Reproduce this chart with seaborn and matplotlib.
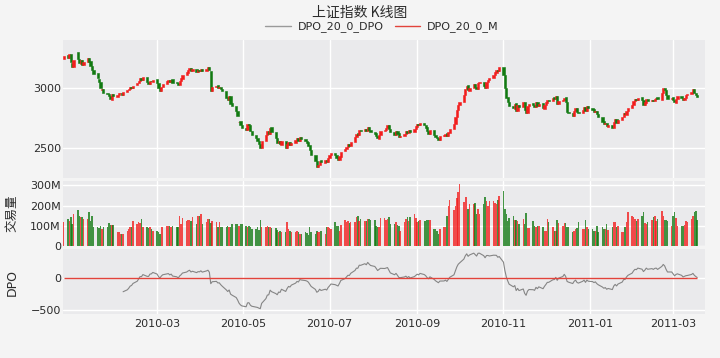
import numpy as np
import pandas as pd
import matplotlib
matplotlib.use("Agg")
import matplotlib.pyplot as plt
import matplotlib.dates as mdates
from matplotlib.ticker import FixedLocator, FixedFormatter
from matplotlib.lines import Line2D
import seaborn as sns

# ---------------- data ----------------
start_date = "2009-12-25"   # first trading day shown (weekday axis)

close = [
    3270,
    3250, 3280, 3215, 3175, 3230,
    3240, 3205, 3235, 3190, 3215,
    3250, 3220, 3180, 3150, 3120,
    3080, 3050, 3000, 2990, 2960,
    2950, 2930, 2905, 2950, 2930,
    2945, 2955, 2960, 2940, 2965,
    2980, 2990, 3005, 3000, 3020,
    3040, 3060, 3085, 3070, 3090,
    3050, 3035, 3060, 3055, 3070,
    3040, 3000, 2975, 3010, 3035,
    3055, 3065, 3050, 3070, 3045,
    3040, 3025, 3060, 3080, 3110,
    3130, 3150, 3165, 3140, 3155,
    3135, 3150, 3145, 3160, 3140,
    3160, 3175, 3150, 2975, 3010,
    3020, 3000, 3010, 2990, 2975,
    2920, 2900, 2930, 2870, 2850,
    2810, 2770, 2720, 2690, 2670,
    2650, 2700, 2690, 2640, 2610,
    2580, 2560, 2530, 2500, 2560,
    2610, 2640, 2620, 2670, 2630,
    2580, 2540, 2560, 2530, 2555,
    2500, 2530, 2550, 2525, 2545,
    2565, 2580, 2560, 2590, 2575,
    2560, 2545, 2520, 2480, 2440,
    2390, 2345, 2360, 2395, 2380,
    2400, 2385, 2420, 2440, 2460,
    2440, 2420, 2400, 2430, 2470,
    2490, 2510, 2530, 2520, 2550,
    2590, 2620, 2610, 2650, 2640,
    2660, 2640, 2675, 2650, 2630,
    2620, 2600, 2580, 2610, 2640,
    2650, 2670, 2690, 2660, 2630,
    2610, 2640, 2620, 2595, 2600,
    2620, 2640, 2625, 2650, 2635,
    2660, 2680, 2700, 2690, 2710,
    2690, 2670, 2640, 2620, 2650,
    2610, 2590, 2580, 2570, 2600,
    2605, 2620, 2600, 2630, 2660,
    2700, 2760, 2820, 2860, 2880,
    2940, 2990, 3020, 2980, 3000,
    3030, 3010, 2990, 3040, 3050,
    3020, 3000, 3050, 3070, 3080,
    3110, 3130, 3150, 3140, 3175,
    3110, 3000, 2920, 2880, 2850,
    2830, 2870, 2810, 2860, 2840,
    2880, 2820, 2790, 2850, 2870,
    2860, 2840, 2880, 2850, 2870,
    2830, 2860, 2880, 2900, 2890,
    2920, 2910, 2930, 2870, 2890,
    2900, 2920, 2880, 2800, 2790,
    2770, 2810, 2830, 2800, 2790,
    2820, 2840, 2810, 2850, 2830,
    2820, 2800, 2810, 2780, 2760,
    2720, 2700, 2710, 2680, 2690,
    2670, 2720, 2740, 2710, 2735,
    2760, 2790, 2780, 2810, 2830,
    2860, 2890, 2910, 2900, 2920,
    2900, 2860, 2880, 2910, 2890,
    2900, 2890, 2910, 2920, 2905,
    2960, 3000, 2985, 2940, 2910,
    2920, 2900, 2880, 2910, 2930,
    2915, 2900, 2920, 2940, 2950,
    2970, 2990, 2960, 2940, 2925,
]

open_ = [
    3240,
    3272, 3248, 3282, 3212, 3178,
    3300, 3238, 3203, 3237, 3188,
    3213, 3252, 3222, 3182, 3152,
    3122, 3078, 3052, 2985, 2992,
    2962, 2948, 2932, 2903, 2952,
    2928, 2943, 2957, 2962, 2938,
    2963, 2982, 2988, 3007, 2998,
    3022, 3038, 3062, 3087, 3068,
    3092, 3052, 3033, 3062, 3053,
    3072, 3042, 3002, 2973, 3008,
    3033, 3053, 3067, 3048, 3072,
    3047, 3042, 3023, 3058, 3078,
    3108, 3128, 3148, 3167, 3138,
    3157, 3133, 3152, 3143, 3162,
    3138, 3158, 3177, 3140, 2973,
    3008, 3022, 2998, 3012, 2992,
    2977, 2922, 2898, 2932, 2872,
    2852, 2812, 2715, 2722, 2692,
    2668, 2648, 2702, 2688, 2642,
    2612, 2582, 2562, 2532, 2498,
    2558, 2608, 2642, 2618, 2672,
    2632, 2582, 2538, 2562, 2528,
    2557, 2498, 2528, 2552, 2523,
    2543, 2563, 2582, 2558, 2592,
    2577, 2562, 2547, 2522, 2482,
    2442, 2392, 2343, 2362, 2397,
    2378, 2402, 2383, 2418, 2438,
    2462, 2442, 2422, 2398, 2428,
    2472, 2488, 2508, 2532, 2518,
    2552, 2588, 2622, 2608, 2652,
    2638, 2662, 2638, 2677, 2652,
    2632, 2622, 2602, 2578, 2608,
    2642, 2648, 2668, 2692, 2662,
    2632, 2608, 2642, 2622, 2593,
    2602, 2618, 2642, 2623, 2652,
    2633, 2658, 2678, 2702, 2688,
    2712, 2692, 2672, 2642, 2618,
    2652, 2612, 2592, 2582, 2568,
    2602, 2603, 2622, 2598, 2628,
    2662, 2698, 2758, 2818, 2862,
    2882, 2938, 2988, 3022, 2978,
    3002, 3032, 3012, 2988, 3038,
    3052, 3022, 2998, 3048, 3068,
    3082, 3108, 3128, 3152, 3138,
    3177, 3112, 3002, 2922, 2882,
    2852, 2828, 2872, 2808, 2862,
    2838, 2882, 2822, 2788, 2848,
    2872, 2862, 2838, 2882, 2848,
    2872, 2828, 2858, 2878, 2902,
    2888, 2922, 2908, 2932, 2868,
    2892, 2898, 2922, 2882, 2802,
    2792, 2768, 2808, 2832, 2802,
    2788, 2818, 2842, 2808, 2852,
    2832, 2822, 2798, 2812, 2782,
    2762, 2722, 2698, 2712, 2678,
    2692, 2668, 2718, 2742, 2708,
    2733, 2758, 2792, 2778, 2808,
    2832, 2858, 2888, 2912, 2898,
    2922, 2902, 2858, 2878, 2912,
    2888, 2902, 2888, 2908, 2922,
    2903, 2958, 3002, 2987, 2942,
    2908, 2922, 2902, 2878, 2908,
    2932, 2917, 2898, 2918, 2938,
    2948, 2968, 2992, 2962, 2942,
]

volume_m = [
    117,
    133, 125, 142, 108, 158,
    178, 150, 142, 142, 133,
    133, 167, 125, 150, 92,
    92, 88, 100, 83, 92,
    95, 112, 105, 105, 103,
    67, 67, 58, 58, 58,
    72, 83, 95, 95, 125,
    108, 117, 112, 133, 95,
    95, 87, 95, 83, 75,
    75, 67, 58, 92, 95,
    97, 97, 100, 95, 100,
    95, 95, 150, 108, 137,
    125, 128, 128, 122, 142,
    108, 147, 147, 158, 108,
    117, 133, 133, 112, 125,
    117, 92, 117, 95, 92,
    95, 100, 92, 92, 108,
    108, 108, 100, 108, 108,
    100, 92, 100, 95, 83,
    83, 92, 78, 128, 95,
    95, 100, 95, 92, 88,
    88, 78, 67, 75, 67,
    67, 117, 83, 75, 67,
    67, 72, 67, 58, 58,
    67, 62, 55, 92, 67,
    58, 75, 67, 67, 75,
    58, 95, 95, 88, 83,
    117, 100, 100, 75, 105,
    128, 117, 122, 112, 117,
    117, 142, 150, 125, 133,
    125, 125, 133, 133, 128,
    128, 100, 95, 92, 137,
    137, 128, 133, 142, 108,
    108, 117, 105, 100, 75,
    117, 133, 142, 125, 145,
    158, 140, 117, 125, 128,
    125, 125, 128, 128, 128,
    83, 83, 75, 58, 83,
    92, 95, 150, 200, 228,
    178, 200, 240, 267, 308,
    220, 242, 242, 183, 208,
    210, 213, 158, 183, 158,
    208, 242, 225, 200, 222,
    222, 213, 208, 228, 250,
    270, 183, 158, 125, 140,
    150, 128, 128, 125, 108,
    133, 108, 162, 88, 88,
    125, 100, 92, 100, 100,
    95, 75, 75, 133, 117,
    92, 75, 75, 128, 112,
    100, 112, 112, 92, 95,
    67, 75, 83, 88, 117,
    83, 83, 128, 92, 83,
    83, 75, 75, 100, 67,
    92, 83, 83, 108, 78,
    92, 117, 117, 92, 100,
    67, 67, 95, 117, 167,
    150, 142, 133, 122, 133,
    150, 167, 112, 108, 117,
    130, 142, 150, 125, 133,
    175, 150, 128, 128, 125,
    100, 150, 167, 137, 100,
    100, 100, 105, 125, 117,
    133, 150, 167, 175, 130,
]

x_ticks = ["2010-03-01", "2010-05-01", "2010-07-01", "2010-09-01",
           "2010-11-01", "2011-01-01", "2011-03-01"]
x_tick_labels = ["2010-03", "2010-05", "2010-07", "2010-09",
                 "2010-11", "2011-01", "2011-03"]
price_ticks = [2500, 3000]
volume_ticks = [0, 100e6, 200e6, 300e6]
volume_tick_labels = ["0", "100M", "200M", "300M"]
dpo_ticks = [-500, 0]
dpo_length = 20
dpo_shift = 11
dpo_m_level = 0.0
title = "上证指数 K线图"
legend_labels = ["DPO_20_0_DPO", "DPO_20_0_M"]

# ---------------- style ----------------
sns.set_style("darkgrid", {"axes.facecolor": "#eaeaec", "grid.color": "white",
                           "axes.edgecolor": "#eaeaec"})
plt.rcParams["font.family"] = ["DejaVu Sans", "Noto Sans CJK SC"]
plt.rcParams["axes.unicode_minus"] = True

n = min(len(close), len(open_), len(volume_m))
dates = pd.bdate_range(start_date, periods=n)
df = pd.DataFrame({
    "date": dates,
    "open": np.array(open_[:n], dtype=float),
    "close": np.array(close[:n], dtype=float),
    "volume": np.array(volume_m[:n], dtype=float) * 1e6,
})
df["x"] = mdates.date2num(df["date"])
df["up"] = df["close"] >= df["open"]
ma = df["close"].rolling(dpo_length).mean()
df["dpo"] = df["close"] - ma.shift(dpo_shift)

up_c = "#f21d1d"
dn_c = "#127a12"
cols = np.where(df["up"], up_c, dn_c)

W, H = 720, 358
fig = plt.figure(figsize=(7.2, 3.58), dpi=100)
fig.patch.set_facecolor("#f4f4f4")
left, right = 63, 705
ax1 = fig.add_axes([left / W, 1 - 178 / H, (right - left) / W, 138 / H])
ax2 = fig.add_axes([left / W, 1 - 245.5 / H, (right - left) / W, 64 / H], sharex=ax1)
ax3 = fig.add_axes([left / W, 1 - 314 / H, (right - left) / W, 65 / H], sharex=ax1)

# candles
body = (df["close"] - df["open"]).values
ax1.bar(df["x"], body, bottom=df["open"], width=1.6, color=cols,
        edgecolor=cols, linewidth=0.4, zorder=3)
ax1.set_ylim(2250, 3400)
ax1.yaxis.set_major_locator(FixedLocator(price_ticks))

# volume
ax2.bar(df["x"], df["volume"], width=1.05, color=cols, alpha=0.78,
        linewidth=0, zorder=3)
ax2.set_ylim(0, 320e6)
ax2.yaxis.set_major_locator(FixedLocator(volume_ticks))
ax2.yaxis.set_major_formatter(FixedFormatter(volume_tick_labels))

# DPO
sns.lineplot(x=df["x"], y=df["dpo"], ax=ax3, color="#858585", linewidth=0.8,
             zorder=3, legend=False)
ax3.hlines(dpo_m_level, df["x"].iloc[0], df["x"].iloc[-1], color="#e2433b",
           linewidth=1.0, zorder=4)
ax3.set_ylim(-560, 456)
ax3.yaxis.set_major_locator(FixedLocator(dpo_ticks))
ax3.set_xlabel("")
ax3.set_ylabel("")

x0 = mdates.date2num(pd.Timestamp("2009-12-24 12:00"))
x1 = x0 + (right - left) / 1.414
ax1.set_xlim(x0, x1)
ax3.xaxis.set_major_locator(FixedLocator(mdates.date2num(pd.to_datetime(x_ticks))))
ax3.xaxis.set_major_formatter(FixedFormatter(x_tick_labels))

for ax in (ax1, ax2, ax3):
    ax.tick_params(axis="both", labelsize=8, colors="#2b2b2b", length=0)
    ax.tick_params(axis="y", pad=1.5)
    ax.grid(True, color="white", linewidth=1.0)
    for s in ax.spines.values():
        s.set_visible(False)
ax1.tick_params(axis="x", labelbottom=False)
ax2.tick_params(axis="x", labelbottom=False)
ax3.tick_params(axis="x", pad=3.5)

fig.text(12 / W, 1 - 213 / H, "交易量", rotation=90, ha="center", va="center",
         fontsize=9, color="#2b2b2b", family=["Noto Sans CJK SC", "DejaVu Sans"])
fig.text(12 / W, 1 - 282 / H, "DPO", rotation=90, ha="center", va="center",
         fontsize=9, color="#2b2b2b")
fig.text(0.5, 1 - 13 / H, title, ha="center", va="center", fontsize=10,
         color="#2b2b2b", family=["Noto Sans CJK SC", "DejaVu Sans"])

handles = [Line2D([], [], color="#9a9a9a", linewidth=1.0),
           Line2D([], [], color="#e2433b", linewidth=1.0)]
fig.legend(handles, legend_labels, loc="center", bbox_to_anchor=(382 / W, 1 - 27 / H),
           ncol=2, frameon=False, fontsize=8, handlelength=2.3, handletextpad=0.6,
           columnspacing=1.0, labelcolor="#2b2b2b")

fig.savefig("out.png", dpi=100, facecolor=fig.get_facecolor())
